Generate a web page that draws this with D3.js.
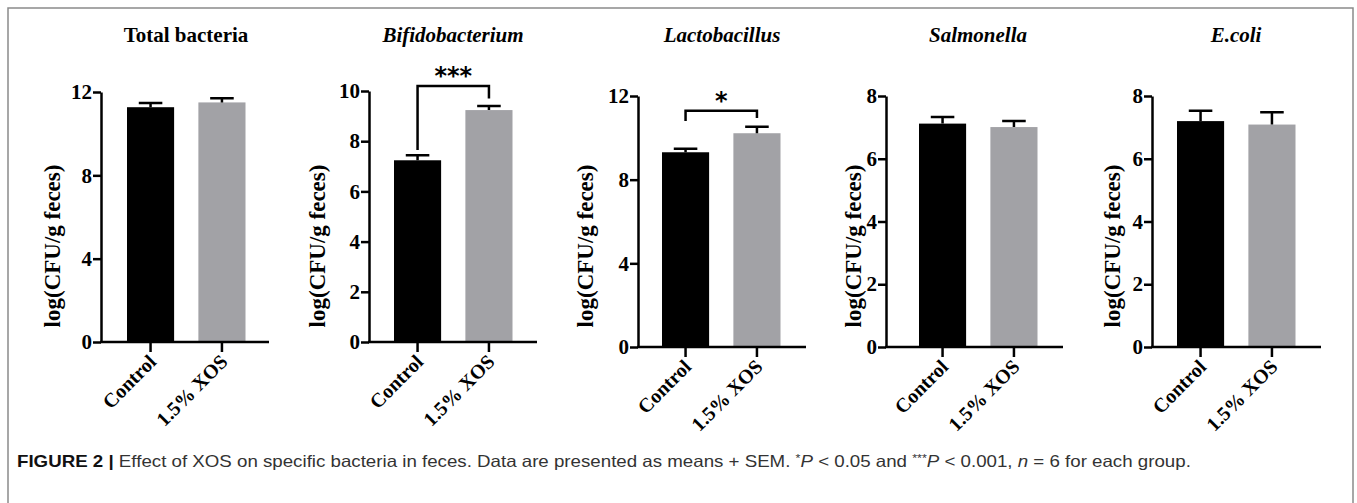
<!DOCTYPE html>
<html>
<head>
<meta charset="utf-8">
<script src="https://cdn.jsdelivr.net/npm/d3@7"></script>
<style>
  body { margin: 0; background: #fff; }
  svg { display: block; }
  .serif { font-family: "Liberation Serif", "Times New Roman", serif; font-weight: bold; }
</style>
</head>
<body>
<svg id="fig" width="1357" height="503"></svg>
<script>
// data
var panelNames = ["Total bacteria", "Bifidobacterium", "Lactobacillus", "Salmonella", "E.coli"];
var italicTitle = [false, true, true, true, true];
var groups = ["Control", "1.5% XOS"];
var controlMean = [11.27, 7.24, 9.31, 7.12, 7.20];
var controlSem = [0.20, 0.20, 0.17, 0.21, 0.33];
var xosMean = [11.50, 9.24, 10.22, 7.01, 7.09];
var xosSem = [0.20, 0.16, 0.31, 0.19, 0.39];
var yMax = [12, 10, 12, 8, 8];
var yStep = [4, 2, 4, 2, 2];
var sigText = [null, "***", "*", null, null];
var bracketTop = [null, 10.2, 11.3, null, null];
var bracketLeftEnd = [null, 7.65, 10.8, null, null];
var bracketRightEnd = [null, 9.7, 10.95, null, null];

// layout of each small plot (pixels)
var axisX = [101, 369, 638, 886, 1152];
var axisEnd = [269, 537, 806, 1063, 1321];
var barStart = [127, 394, 662, 919, 1177];
var baseY = [342, 342, 347, 347, 347];
var topY = [92, 91, 96, 96, 96];
var titleX = [186, 453, 722, 978, 1236];
var labelX = [52, 317, 585, 853, 1112];

var colors = ["#000000", "#a2a2a6"];
var svg = d3.select("#fig");

// frame
svg.append("path")
  .attr("d", "M8,503 V8 H1353 V503")
  .attr("fill", "none")
  .attr("stroke", "#8a8a8a")
  .attr("stroke-width", 1.5);

panelNames.forEach(function(name, i) {
  var g = svg.append("g");
  var means = [controlMean[i], xosMean[i]];
  var sems = [controlSem[i], xosSem[i]];

  var y = d3.scaleLinear().domain([0, yMax[i]]).range([baseY[i], topY[i]]);
  var x = d3.scaleBand().domain(groups)
    .range([barStart[i], barStart[i] + 118.5])
    .paddingInner(0.34).paddingOuter(0);
  var bw = x.bandwidth();

  // title
  g.append("text")
    .attr("class", "serif")
    .attr("x", titleX[i]).attr("y", 42)
    .attr("text-anchor", "middle")
    .style("font-size", "21px")
    .style("font-style", italicTitle[i] ? "italic" : "normal")
    .text(name);

  // y label
  g.append("text")
    .attr("class", "serif")
    .attr("transform", "translate(" + (labelX[i] + 8) + ",246) rotate(-90)")
    .attr("text-anchor", "middle")
    .style("font-size", "23px")
    .text("log(CFU/g feces)");

  // bars
  g.selectAll(".bar")
    .data(groups)
    .enter().append("rect")
    .attr("x", d => x(d))
    .attr("width", bw)
    .attr("y", (d, j) => y(means[j]))
    .attr("height", (d, j) => y(0) - y(means[j]))
    .attr("fill", (d, j) => colors[j]);

  // error bars (mean + SEM)
  g.selectAll(".err")
    .data(groups)
    .enter().append("path")
    .attr("d", function(d, j) {
      var cx = x(d) + bw / 2;
      return "M" + cx + "," + y(means[j]) + "V" + y(means[j] + sems[j]) +
        "M" + (cx - bw / 4) + "," + y(means[j] + sems[j]) + "H" + (cx + bw / 4);
    })
    .attr("fill", "none")
    .attr("stroke", "#000")
    .attr("stroke-width", 2.5);

  // y axis
  var yAxis = g.append("g")
    .attr("transform", "translate(" + axisX[i] + ",0)")
    .call(d3.axisLeft(y)
      .tickValues(d3.range(0, yMax[i] + 0.01, yStep[i]))
      .tickSize(8).tickSizeOuter(0).tickPadding(1));
  yAxis.select(".domain").attr("stroke-width", 2.5);
  yAxis.selectAll(".tick line").attr("stroke-width", 2.5);
  yAxis.selectAll("text")
    .attr("class", "serif")
    .style("font-size", "21px")
    .attr("fill", "#000");

  // x axis
  g.append("line")
    .attr("x1", axisX[i] - 1).attr("x2", axisEnd[i])
    .attr("y1", baseY[i]).attr("y2", baseY[i])
    .attr("stroke", "#000").attr("stroke-width", 2.5);
  var xAxis = g.append("g")
    .attr("transform", "translate(0," + baseY[i] + ")")
    .call(d3.axisBottom(x).tickSize(10).tickSizeOuter(0));
  xAxis.select(".domain").remove();
  xAxis.selectAll(".tick line").attr("stroke-width", 2.5);
  xAxis.selectAll("text")
    .attr("class", "serif")
    .style("font-size", "20px")
    .attr("fill", "#000")
    .attr("x", 0).attr("y", 0).attr("dy", 0)
    .attr("text-anchor", "end")
    .attr("transform", "translate(7,21) rotate(-45)");

  // significance bracket
  if (sigText[i]) {
    var xl = x(groups[0]) + bw / 2, xr = x(groups[1]) + bw / 2;
    g.append("path")
      .attr("d", "M" + xl + "," + y(bracketLeftEnd[i]) + "V" + y(bracketTop[i]) +
        "H" + xr + "V" + y(bracketRightEnd[i]))
      .attr("fill", "none")
      .attr("stroke", "#000")
      .attr("stroke-width", 2.5);
    g.append("text")
      .attr("x", (xl + xr) / 2)
      .attr("y", y(bracketTop[i]) - 2)
      .attr("text-anchor", "middle")
      .style("font-family", "DejaVu Sans")
      .style("font-weight", "bold")
      .style("font-size", "24px")
      .text(sigText[i]);
  }
});

// caption (narrow sans: squeeze horizontally to the printed width)
var cap = svg.append("text")
  .attr("x", 0).attr("y", 0)
  .style("font-family", "'Liberation Sans', Arial, sans-serif")
  .style("font-size", "16.5px")
  .attr("fill", "#333");
cap.append("tspan").style("font-weight", "bold").attr("fill", "#111").text("FIGURE 2 |");
cap.append("tspan").text(" Effect of XOS on specific bacteria in feces. Data are presented as means + SEM. ");
cap.append("tspan").style("font-size", "11px").attr("dy", -5).text("*");
cap.append("tspan").attr("dy", 5).style("font-style", "italic").text("P");
cap.append("tspan").text(" < 0.05 and ");
cap.append("tspan").style("font-size", "11px").attr("dy", -5).text("***");
cap.append("tspan").attr("dy", 5).style("font-style", "italic").text("P");
cap.append("tspan").text(" < 0.001, ");
cap.append("tspan").style("font-style", "italic").text("n");
cap.append("tspan").text(" = 6 for each group.");

var len = cap.node().getComputedTextLength();
cap.attr("transform", "translate(17,467) scale(" + (1175 / len) + ",1)");
</script>
</body>
</html>
